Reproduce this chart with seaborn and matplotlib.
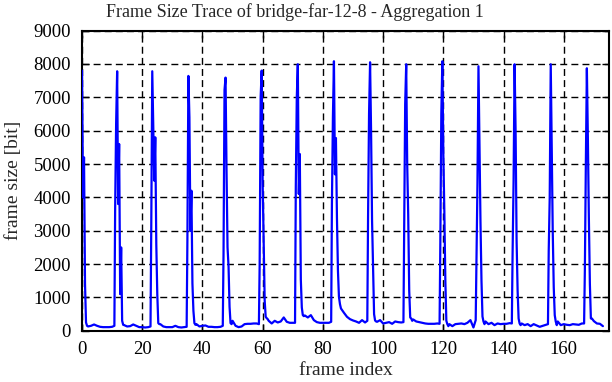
import numpy as np
import pandas as pd
import matplotlib
matplotlib.use("Agg")
import matplotlib.pyplot as plt
import seaborn as sns

# ---------------- data ----------------
title = "Frame Size Trace of bridge-far-12-8 - Aggregation 1"
x_label = "frame index"
y_label = "frame size [bit]"
x_ticks = [0, 20, 40, 60, 80, 100, 120, 140, 160]
y_ticks = [0, 1000, 2000, 3000, 4000, 5000, 6000, 7000, 8000, 9000]

# I-frame positions (every 12 frames)
spike_frames = [0, 12, 24, 36, 48, 60, 72, 84, 96, 108, 120, 132, 144, 156, 168]
# sample offsets (in frames) around each I-frame spike
spike_offsets = [-1.25, -1.0, -0.67, -0.33, 0.0, 0.33, 0.67, 1.0, 1.33, 1.67]
nan = float("nan")
spike_bits = [
    [nan, nan, nan, nan, 7800, 4000, 5200, 1400, 250, 150],
    [150, 3600, 6200, 7780, 3800, 5600, 1100, 2500, 300, 180],
    [130, 3100, 7780, 6200, 4500, 5800, 2600, 1100, 230, 200],
    [120, 2700, 7640, 6400, 3000, 4200, 1420, 600, 230, 180],
    [150, 2300, 7220, 7590, 4800, 2500, 1920, 720, 230, 200],
    [200, 2000, 7010, 7800, 4400, 2600, 900, 420, 380, 350],
    [240, 4300, 7000, 7990, 4100, 5300, 1540, 700, 470, 440],
    [270, 3820, 6420, 8080, 4690, 5780, 3380, 1800, 1020, 800],
    [300, 3400, 6500, 8050, 6000, 3300, 1800, 500, 310, 280],
    [260, 3000, 6800, 7990, 5000, 3500, 1200, 400, 370, 300],
    [210, 2600, 6500, 8080, 5300, 3600, 1500, 300, 200, 140],
    [320, 2000, 4400, 7930, 5500, 3300, 1500, 430, 280, 200],
    [220, 2300, 4500, 7990, 6000, 2700, 1200, 370, 220, 170],
    [200, 2400, 4000, 7990, 5500, 3000, 1300, 470, 280, 170],
    [220, 1800, 5000, 7870, 5800, 3400, 1400, 370, 370, 330],
]
# frame sizes between spikes: frames 12k+2 ... 12k+10 (last gap 170..173)
gap_bits = [
    [130, 150, 190, 150, 120, 110, 110, 110, 120],
    [170, 130, 140, 190, 150, 110, 110, 100, 110],
    [200, 130, 110, 110, 110, 150, 110, 100, 110],
    [200, 130, 150, 160, 120, 120, 110, 110, 120],
    [300, 150, 110, 130, 200, 210, 210, 220, 220],
    [300, 220, 300, 250, 280, 400, 270, 240, 240],
    [460, 400, 470, 320, 260, 240, 240, 240, 240],
    [670, 540, 420, 350, 310, 280, 240, 320, 250],
    [270, 320, 220, 240, 260, 210, 280, 260, 250],
    [340, 280, 260, 240, 220, 210, 210, 210, 220],
    [200, 140, 200, 210, 220, 200, 240, 320, 100],
    [280, 200, 240, 170, 220, 200, 210, 210, 230],
    [220, 170, 200, 140, 200, 160, 120, 150, 180],
    [280, 170, 200, 180, 170, 200, 190, 180, 220],
    [290, 220, 210, 140],
]

# ---------------- build table ----------------
xs, ys = [], []
for sf, sb, gb in zip(spike_frames, spike_bits, gap_bits):
    for off, v in zip(spike_offsets, sb):
        if not np.isnan(v):
            xs.append(sf + off)
            ys.append(v)
    for i, v in enumerate(gb):
        xs.append(sf + 2 + i)
        ys.append(v)
df = pd.DataFrame({"frame": xs, "bits": ys}).sort_values("frame")

# ---------------- plot ----------------
sns.set_style("ticks")
plt.rcParams["font.family"] = ["Liberation Serif", "DejaVu Serif"]

fig = plt.figure(figsize=(6.12, 3.82), dpi=100)
ax = fig.add_axes([0.134, 0.134, 0.861, 0.786])

sns.lineplot(data=df, x="frame", y="bits", ax=ax, color="#0000ff",
             linewidth=1.6, estimator=None, sort=False, zorder=3)

ax.set_xlim(0, 175)
ax.set_ylim(0, 9000)
ax.set_xticks(x_ticks)
ax.set_yticks(y_ticks)
ax.set_xticklabels([str(t) for t in x_ticks], fontsize=13.5)
ax.set_yticklabels([str(t) for t in y_ticks], fontsize=13.5)
ax.tick_params(direction="in", length=5, width=1, top=True, right=True,
               colors="black")
ax.tick_params(axis="x", pad=7)
ax.tick_params(axis="y", pad=8)
ax.grid(True, color="black", linestyle=(0, (5, 3)), linewidth=1.0)
ax.set_axisbelow(True)
for s in ax.spines.values():
    s.set_visible(True)
    s.set_linewidth(1.5)
    s.set_color("black")
ax.set_xlabel(x_label, fontsize=14, labelpad=3)
ax.set_ylabel(y_label, fontsize=14, labelpad=8)
fig.text(0.482, 1 - 12.5 / 382, title, fontsize=13, ha="center", va="center")

fig.savefig("out.png", dpi=100)
